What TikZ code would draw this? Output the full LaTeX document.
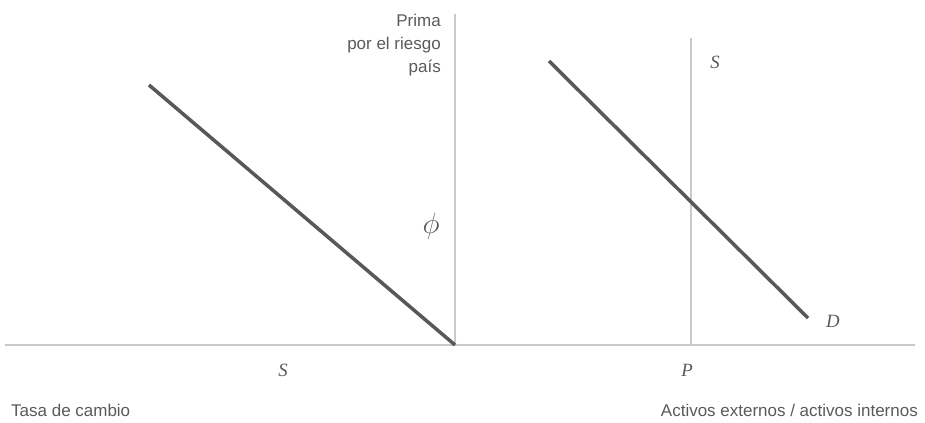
\documentclass[tikz,border=0pt]{standalone}
\usepackage{fontspec}
\setmainfont{Liberation Serif}
\setsansfont{Liberation Sans}
\usepackage{tikz}
\usetikzlibrary{positioning, calc}

\definecolor{ejegris}{HTML}{C9C9CC}
\definecolor{rectagris}{HTML}{58585A}
\definecolor{textogris}{HTML}{5A5A5A}

\tikzset{
  eje/.style={draw=ejegris, line width=1.2pt},
  recta/.style={draw=rectagris, line width=3pt},
  rotulo/.style={font=\sffamily\fontsize{14.5}{19.5}\selectfont, text=textogris, inner sep=0pt},
  letra/.style={font=\fontsize{16}{18}\selectfont\itshape, text=textogris, inner sep=0pt}
}

\begin{document}
\begin{tikzpicture}[x=0.03cm, y=-0.03cm]
  \useasboundingbox (0,0) rectangle (925,423);

  % ---------- ejes ----------
  \coordinate (origen) at (455,345);
  \coordinate (ejeizq) at (5,345);
  \coordinate (ejeder) at (915,345);
  \coordinate (ejetope) at (455,14);
  \coordinate (ofbase) at (691,345);
  \coordinate (oftope) at (691,38);
  \draw[eje] (ejeizq) -- (ejeder);
  \draw[eje] (origen) -- (ejetope);
  \draw[eje] (ofbase) -- (oftope);

  % ---------- rectas ----------
  \coordinate (izqtope) at (149,85);
  \draw[recta] (izqtope) -- (origen);
  \coordinate (dtope) at (549,61);
  \coordinate (dbase) at (808,318);
  \draw[recta] (dtope) -- (dbase);

  % ---------- rótulos ----------
  \node[rotulo, anchor=east, align=right] (prima) at (441,45)
    {Prima\\ por el riesgo\\ país};
  \node[letra] (phi) at (431,226) {\scalebox{1.45}{$\phi$}};
  \node[letra] (oferta) at (715,62) {S};
  \node[letra] (demanda) at (833,321) {D};
  \node[letra] (tasaS) at (283,370) {S};
  \node[letra] (punto) at (687,370) {P};
  \node[rotulo, anchor=west] (tasa) at (11,410) {Tasa de cambio};
  \node[rotulo, anchor=east] (activos) at (918,410) {Activos externos / activos internos};
\end{tikzpicture}
\end{document}
